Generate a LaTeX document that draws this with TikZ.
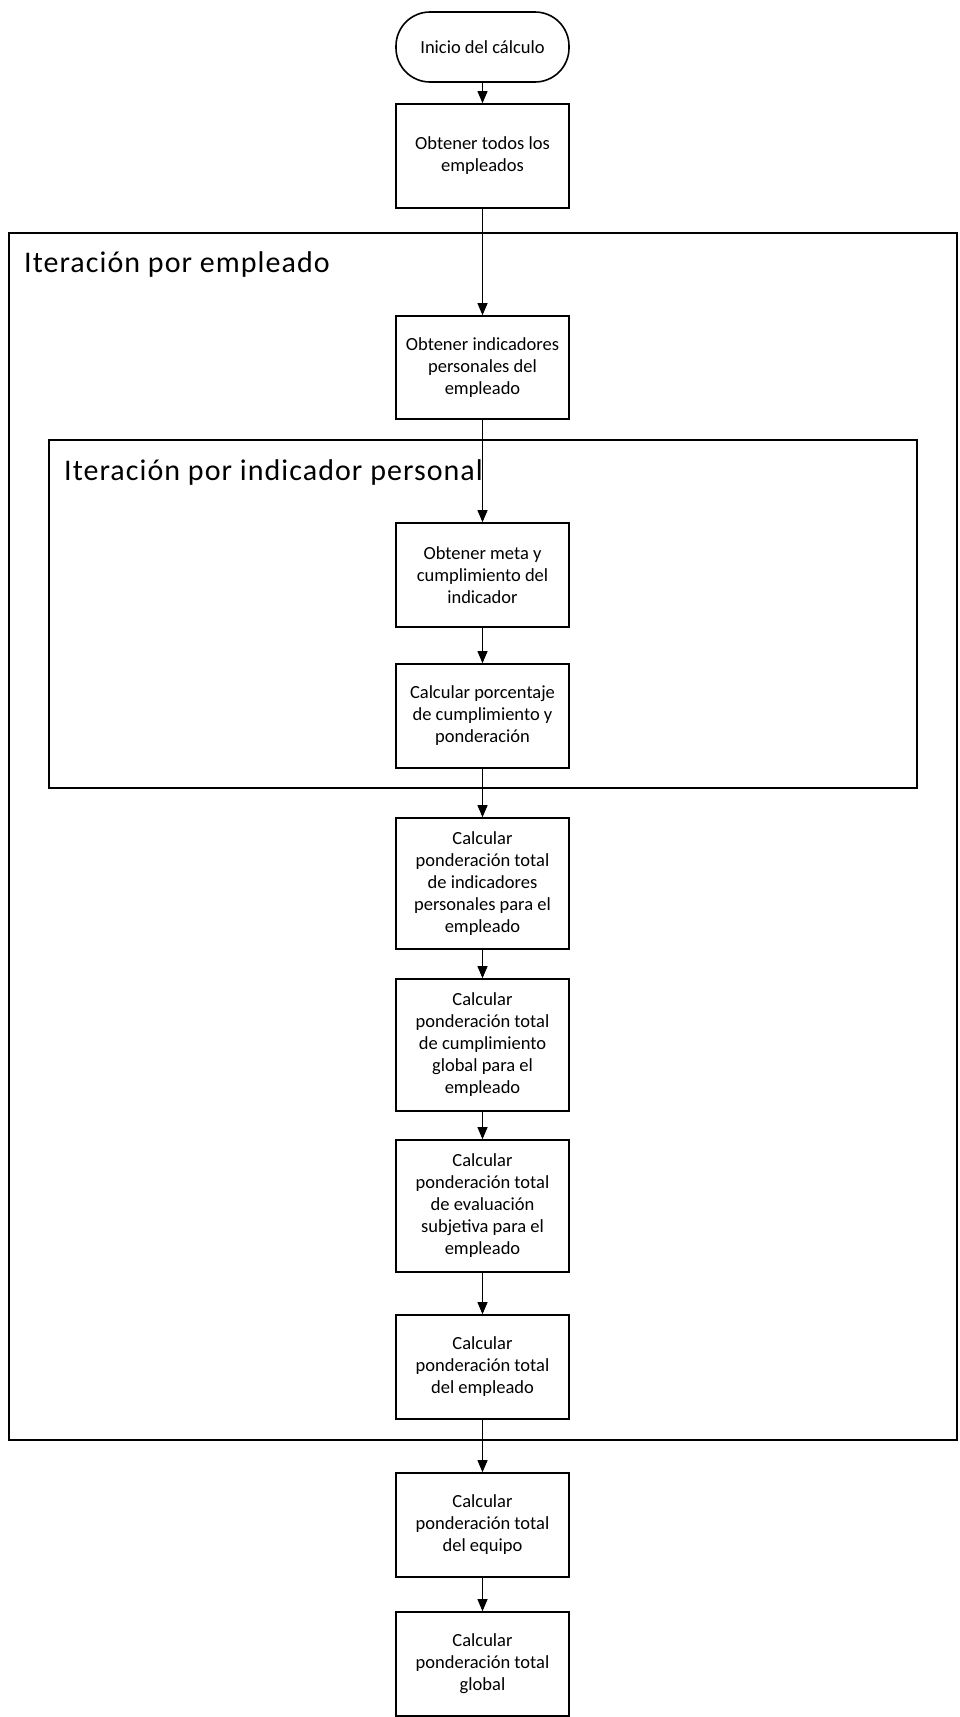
\documentclass[tikz,border=0pt]{standalone}
\usepackage{fontspec}
\setmainfont{Carlito}
\newfontfamily\titlefont[LetterSpace=3.5]{Carlito}
\usetikzlibrary{arrows.meta}

\tikzset{
  stepbox/.style={draw, line width=1.6pt, fill=white, minimum width=173pt,
    align=center, inner sep=2pt, font=\fontsize{18.5}{22}\selectfont},
  startbox/.style={stepbox, rounded corners=34pt, minimum height=70pt},
  frame/.style={draw, line width=1.6pt},
  frametitle/.style={anchor=base west, inner sep=0pt, font=\titlefont\fontsize{30}{35}\selectfont},
  flow/.style={line width=0.9pt, -{Triangle[length=12pt,width=10pt]}},
}

\begin{document}
\begin{tikzpicture}[x=1pt,y=-1pt]
  \useasboundingbox (0,0) rectangle (959,1717);

  % loop frames
  \draw[frame] (9,233) rectangle (957,1440);
  \node[frametitle] (tEmp) at (24,272) {Iteración por empleado};
  \draw[frame] (49,440) rectangle (917,788);
  \node[frametitle] (tInd) at (64,480) {Iteración por indicador personal};

  % steps
  \node[startbox] (inicio) at (482.5,47) {Inicio del cálculo};
  \node[stepbox, minimum height=104pt] (b1) at (482.5,156) {Obtener todos los\\empleados};
  \node[stepbox, minimum height=103pt] (b2) at (482.5,367.5) {Obtener indicadores\\personales del\\empleado};
  \node[stepbox, minimum height=104pt] (b3) at (482.5,575) {Obtener meta y\\cumplimiento del\\indicador};
  \node[stepbox, minimum height=104pt] (b4) at (482.5,716) {Calcular porcentaje\\de cumplimiento y\\ponderación};
  \node[stepbox, minimum height=131pt] (b5) at (482.5,883.5) {Calcular\\ponderación total\\de indicadores\\personales para el\\empleado};
  \node[stepbox, minimum height=132pt] (b6) at (482.5,1045) {Calcular\\ponderación total\\de cumplimiento\\global para el\\empleado};
  \node[stepbox, minimum height=132pt] (b7) at (482.5,1206) {Calcular\\ponderación total\\de evaluación\\subjetiva para el\\empleado};
  \node[stepbox, minimum height=104pt] (b8) at (482.5,1367) {Calcular\\ponderación total\\del empleado};
  \node[stepbox, minimum height=104pt] (b9) at (482.5,1525) {Calcular\\ponderación total\\del equipo};
  \node[stepbox, minimum height=104pt] (b10) at (482.5,1664) {Calcular\\ponderación total\\global};

  % connectors
  \foreach \a/\b in {inicio/b1, b1/b2, b2/b3, b3/b4, b4/b5, b5/b6, b6/b7, b7/b8, b8/b9, b9/b10}
    \draw[flow] (\a.south) -- (\b.north);
\end{tikzpicture}
\end{document}
